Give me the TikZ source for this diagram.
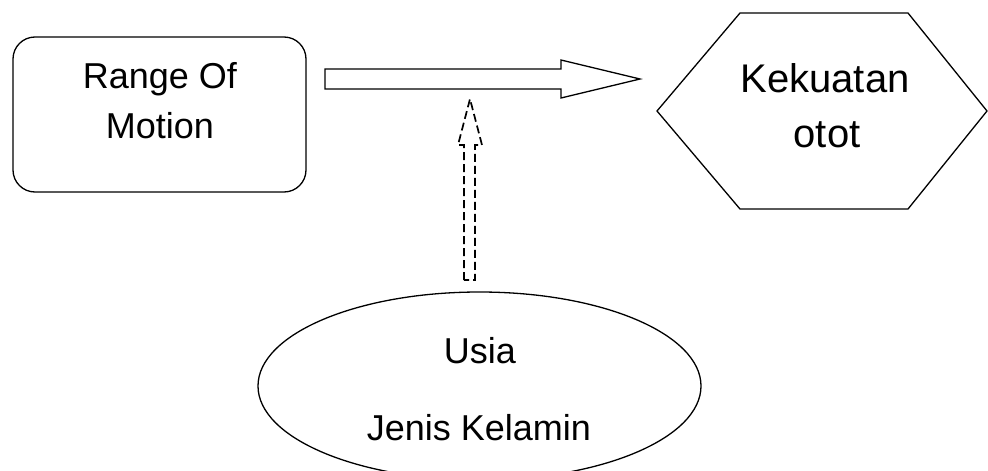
\documentclass[tikz,border=0pt]{standalone}
\usepackage{fontspec}
\setmainfont{Liberation Sans}
\usetikzlibrary{calc,shapes.geometric}
\tikzset{
  outline/.style={draw=black, line width=1.3pt, fill=white},
  txtA/.style={font=\fontsize{36}{40}\selectfont, anchor=base, inner sep=0pt},
  txtB/.style={font=\fontsize{40}{44}\selectfont, anchor=base, inner sep=0pt},
  dashedarrow/.style={draw=black, line width=1.7pt, dash pattern=on 8pt off 4pt, line join=miter},
}
\begin{document}
\begin{tikzpicture}[x=1pt,y=-1pt]
\useasboundingbox (0,0) rectangle (988,471);
\clip (0,0) rectangle (988,471);
% Range Of Motion box
\node[outline, rectangle, rounded corners=22pt, minimum width=293pt, minimum height=155pt, inner sep=0pt] (rom) at (159.5,114.5) {};
\node[txtA] (romA) at (160,88) {Range Of};
\node[txtA] (romB) at (160,138) {Motion};
% Hexagon
\coordinate (hexc) at (822.5,111);
\draw[outline] (740,13) -- (908,13) -- (987,111) -- (908,209) -- (740,209) -- (657,111) -- cycle;
\node[txtB] (hexA) at (825,92) {Kekuatan};
\node[txtB] (hexB) at (827,147) {otot};
% Ellipse
\node[outline, ellipse, minimum width=443pt, minimum height=188pt, inner sep=0pt] (ell) at (479.5,386) {};
\node[txtA] (ellA) at (480,363) {Usia};
\node[txtA] (ellB) at (479,440) {Jenis Kelamin};
% Block arrow
\coordinate (arrS) at (325,79);
\coordinate (arrT) at (640,79);
\draw[outline, line join=miter] ($(arrS)+(0,-10)$) -- ($(arrT)+(-79,-10)$) -- ($(arrT)+(-79,-19)$) -- (arrT)
  -- ($(arrT)+(-79,19)$) -- ($(arrT)+(-79,10)$) -- ($(arrS)+(0,10)$) -- cycle;
% Dashed arrow
\coordinate (dS) at (469.5,280);
\coordinate (dT) at (470,99);
\draw[dashedarrow] ($(dS)+(-5.5,0)$) -- ($(dS)+(-5.5,-135)$) -- ($(dS)+(-11.5,-135)$) -- (dT)
  -- ($(dS)+(12.5,-135)$) -- ($(dS)+(5.5,-135)$) -- ($(dS)+(5.5,0)$) -- cycle;
\end{tikzpicture}
\end{document}
